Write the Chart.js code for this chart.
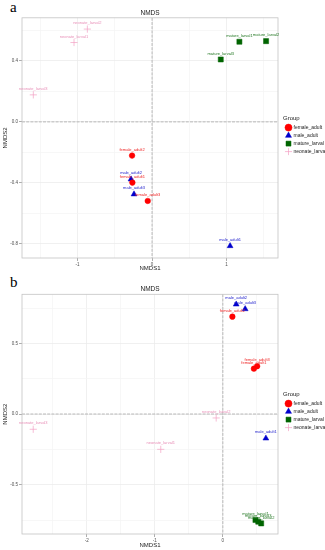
<!DOCTYPE html>
<html><head><meta charset="utf-8">
<script src="https://cdn.jsdelivr.net/npm/chart.js@4.4.0/dist/chart.umd.min.js"></script>
<style>
html,body{margin:0;padding:0;background:#fff;width:325px;height:550px;overflow:hidden;}
.tag{position:absolute;font-family:"Liberation Serif","DejaVu Serif",serif;font-size:15px;color:#000;line-height:15px;}
canvas{position:absolute;left:0;}
</style></head><body>
<div class="tag" style="left:10px;top:0px">a</div>
<div class="tag" style="left:10px;top:275px">b</div>
<canvas id="ca" width="325" height="272" style="top:0;width:325px;height:272px"></canvas>
<canvas id="cb" width="325" height="275" style="top:275px;width:325px;height:275px"></canvas>
<script>
// ---- shared ----
const groups = ['female_adult', 'male_adult', 'mature_larval', 'neonate_larval'];
const femaleNames = ['female_adult1', 'female_adult2', 'female_adult3'];
const maleNames = ['male_adult1', 'male_adult2', 'male_adult3'];
const matureNames = ['mature_larval1', 'mature_larval2', 'mature_larval3'];
const neonateNames = ['neonate_larval1', 'neonate_larval2', 'neonate_larval3'];

// ---- panel a ----
const aFemaleX = [-0.264, -0.268, -0.058];
const aFemaleY = [-0.398, -0.221, -0.518];
const aMaleX = [1.047, -0.282, -0.242];
const aMaleY = [-0.813, -0.376, -0.474];
const aMatureX = [1.172, 1.530, 0.922];
const aMatureY = [0.525, 0.529, 0.409];
const aNeonateX = [-1.047, -0.868, -1.593];
const aNeonateY = [0.520, 0.608, 0.177];
const aXMajor = [-1, 0, 1];
const aXLabels = ['-1', '0', '1'];
const aXMinor = [-1.5, -0.5, 0.5, 1.5];
const aYMajor = [-0.8, -0.4, 0, 0.4];
const aYLabels = ['-0.8', '-0.4', '0.0', '0.4'];
const aYMinor = [-0.6, -0.2, 0.2, 0.6];

// ---- panel b ----
const bFemaleX = [0.456, 0.140, 0.504];
const bFemaleY = [0.321, 0.689, 0.338];
const bMaleX = [0.632, 0.196, 0.328];
const bMaleY = [-0.172, 0.776, 0.743];
const bMatureX = [0.479, 0.563, 0.520];
const bMatureY = [-0.750, -0.774, -0.762];
const bNeonateX = [-0.912, -0.098, -2.785];
const bNeonateY = [-0.250, -0.028, -0.108];
const bXMajor = [-2, -1, 0];
const bXLabels = ['-2', '-1', '0'];
const bXMinor = [-2.5, -1.5, -0.5, 0.5];
const bYMajor = [-0.5, 0, 0.5];
const bYLabels = ['-0.5', '0.0', '0.5'];
const bYMinor = [-0.75, -0.25, 0.25, 0.75];

const FONT = '"Liberation Sans", Arial, sans-serif';
const colors = ['#ff0000', '#0000cc', '#006400', '#f4a0c4'];
const labelColors = ['#ee2222', '#2222cc', '#227722', '#e890b8'];
const styles = ['circle', 'triangle', 'rect', 'cross'];
const radii = [2.8, 3.4, 3.6, 3.6];

function pts(xs, ys) { return xs.map((x, i) => ({x: x, y: ys[i]})); }
function isIn(list, v) { return list.findIndex(m => Math.abs(m - v) < 1e-9); }

const labelPlugin = {
  id: 'pointLabels',
  afterDatasetsDraw(chart) {
    const ctx = chart.ctx;
    ctx.save();
    ctx.font = '4px ' + FONT;
    ctx.textAlign = 'center';
    ctx.textBaseline = 'middle';
    chart.data.datasets.forEach((ds, di) => {
      const meta = chart.getDatasetMeta(di);
      ctx.fillStyle = labelColors[di];
      meta.data.forEach((el, i) => {
        ctx.fillText(ds.names[i], el.x, el.y - 6);
      });
    });
    ctx.restore();
  }
};

const framePlugin = {
  id: 'frame',
  beforeDatasetsDraw(chart) {
    const ctx = chart.ctx, a = chart.chartArea;
    const x0 = chart.scales.x.getPixelForValue(0);
    const y0 = chart.scales.y.getPixelForValue(0);
    ctx.save();
    ctx.strokeStyle = '#a8a8a8';
    ctx.lineWidth = 0.8;
    ctx.setLineDash([3, 1.2]);
    ctx.beginPath();
    ctx.moveTo(x0, a.top); ctx.lineTo(x0, a.bottom);
    ctx.moveTo(a.left, y0); ctx.lineTo(a.right, y0);
    ctx.stroke();
    ctx.setLineDash([]);
    ctx.strokeStyle = '#c4c4c4';
    ctx.strokeRect(a.left, a.top, a.right - a.left, a.bottom - a.top);
    ctx.restore();
  },
  afterLayout(chart) {
    const lg = chart.legend;
    const shift = chart.chartArea.right + 5 - lg.left;
    lg.left += shift; lg.right += shift;
  }
};

function makeChart(id, p) {
  const datasets = groups.map((g, i) => ({
    label: g,
    names: [femaleNames, maleNames, matureNames, neonateNames][i],
    data: pts(p.xs[i], p.ys[i]),
    pointStyle: styles[i],
    pointRadius: radii[i],
    pointHoverRadius: radii[i],
    backgroundColor: colors[i],
    borderColor: colors[i],
    pointBorderWidth: i === 3 ? 0.7 : 0.5
  }));
  function axis(min, max, major, labels, minor, title, fit) {
    return {
      type: 'linear', min: min, max: max,
      afterBuildTicks(s) { s.ticks = major.concat(minor).sort((a, b) => a - b).map(v => ({value: v})); },
      afterFit: fit,
      ticks: {
        autoSkip: false, maxRotation: 0, padding: 1,
        font: {family: FONT, size: 4.5}, color: '#4d4d4d',
        callback(v) { const k = isIn(major, v); return k >= 0 ? labels[k] : ''; }
      },
      grid: {
        drawTicks: true, tickLength: 3,
        color(c) { return isIn(major, c.tick.value) >= 0 ? '#ececec' : '#f5f5f5'; },
        tickColor(c) { return isIn(major, c.tick.value) >= 0 ? '#999' : 'rgba(0,0,0,0)'; },
        lineWidth: 0.8
      },
      border: {display: false},
      title: {display: true, text: title, font: {family: FONT, size: 6}, color: '#222', padding: 0}
    };
  }
  return new Chart(document.getElementById(id), {
    type: 'scatter',
    data: {datasets: datasets},
    plugins: [labelPlugin, framePlugin],
    options: {
      responsive: false, animation: false, devicePixelRatio: 1,
      layout: {padding: {left: 2, right: 0, top: 0, bottom: p.padBottom}},
      scales: {
        x: axis(p.xmin, p.xmax, p.xMajor, p.xLabels, p.xMinor, 'NMDS1', s => { s.height = p.xh; }),
        y: axis(p.ymin, p.ymax, p.yMajor, p.yLabels, p.yMinor, 'NMDS2', s => { s.width = 20; })
      },
      plugins: {
        tooltip: {enabled: false},
        title: {
          display: true, text: 'NMDS', fullSize: false,
          font: {family: FONT, size: 6.5, weight: 'normal'}, color: '#222',
          padding: {top: p.titleTop, bottom: 1}
        },
        legend: {
          position: 'right', align: 'center', maxWidth: 47,
          title: {display: true, text: 'Group', position: 'start', font: {family: FONT, size: 6}, color: '#222', padding: {top: 0, bottom: 0}},
          labels: {usePointStyle: true, font: {family: FONT, size: 5}, color: '#222', padding: 3, boxHeight: 5}
        }
      }
    }
  });
}

makeChart('ca', {
  xs: [aFemaleX, aMaleX, aMatureX, aNeonateX], ys: [aFemaleY, aMaleY, aMatureY, aNeonateY],
  xmin: -1.745, xmax: 1.69, ymin: -0.892, ymax: 0.682,
  xMajor: aXMajor, xLabels: aXLabels, xMinor: aXMinor,
  yMajor: aYMajor, yLabels: aYLabels, yMinor: aYMinor,
  xh: 14, padBottom: 0, titleTop: 9
});
makeChart('cb', {
  xs: [bFemaleX, bMaleX, bMatureX, bNeonateX], ys: [bFemaleY, bMaleY, bMatureY, bNeonateY],
  xmin: -2.95, xmax: 0.81, ymin: -0.849, ymax: 0.847,
  xMajor: bXMajor, xLabels: bXLabels, xMinor: bXMinor,
  yMajor: bYMajor, yLabels: bYLabels, yMinor: bYMinor,
  xh: 15, padBottom: 1, titleTop: 10.5
});
</script>
</body></html>
